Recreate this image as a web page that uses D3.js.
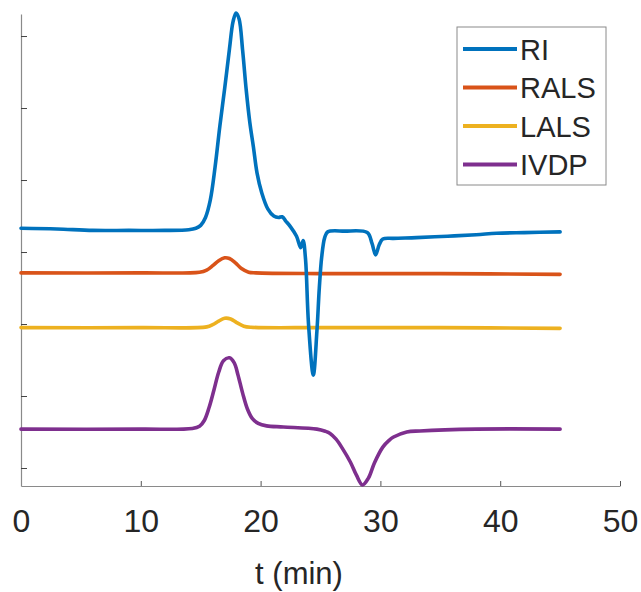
<!DOCTYPE html>
<html>
<head>
<meta charset="utf-8">
<script src="https://cdn.jsdelivr.net/npm/d3@7"></script>
<style>
  body { margin: 0; background: #fff; }
  svg { display: block; }
  text { font-family: "Liberation Sans", Arial, sans-serif; fill: #262626; }
</style>
</head>
<body>
<div id="chart"></div>
<script>
// ---------- data (t in min, signal in arbitrary offset units) ----------
var seriesNames = ["RI", "RALS", "LALS", "IVDP"];
var seriesColors = ["#0072BD", "#D95319", "#EDB120", "#7E2F8E"];

var riT = [0, 3, 6, 9, 12, 14, 14.6, 15.0, 15.4, 15.8, 16.2, 16.6, 17.0, 17.4, 17.7, 17.95, 18.2, 18.5, 18.8, 19.1, 19.4, 19.7, 20.1, 20.6, 21.1, 21.5, 21.8, 22.1, 22.5, 23.0, 23.35, 23.55, 23.75, 24.0, 24.4, 24.7, 24.9, 25.1, 25.35, 25.6, 27, 28.9, 29.3, 29.6, 29.9, 30.2, 31.1, 33, 35.6, 38, 39.7, 42, 45];
var riV = [3.33, 3.32, 3.30, 3.30, 3.30, 3.31, 3.33, 3.37, 3.48, 3.72, 4.18, 4.75, 5.27, 5.82, 6.2, 6.32, 6.24, 5.8, 5.25, 4.8, 4.46, 4.10, 3.82, 3.60, 3.50, 3.48, 3.49, 3.43, 3.35, 3.22, 3.06, 3.16, 2.90, 2.00, 1.29, 1.90, 2.50, 2.93, 3.20, 3.28, 3.29, 3.27, 3.12, 2.96, 3.10, 3.18, 3.19, 3.20, 3.22, 3.24, 3.26, 3.27, 3.28];

var ralsT = [0, 10, 14.9, 15.5, 16.0, 16.5, 17.0, 17.4, 17.9, 18.4, 19.0, 19.6, 25, 35, 45];
var ralsV = [2.71, 2.71, 2.72, 2.75, 2.81, 2.88, 2.92, 2.91, 2.85, 2.77, 2.72, 2.71, 2.70, 2.70, 2.69];

var lalsT = [0, 10, 15.5, 16.0, 16.5, 17.0, 17.5, 18.0, 18.6, 19.2, 25, 35, 45];
var lalsV = [1.95, 1.95, 1.96, 1.99, 2.04, 2.08, 2.07, 2.02, 1.97, 1.955, 1.95, 1.95, 1.94];

var ivdpT = [0, 10, 14.3, 14.9, 15.3, 15.7, 16.1, 16.5, 16.9, 17.4, 17.8, 18.1, 18.5, 18.9, 19.3, 19.8, 20.5, 21.9, 24.7, 25.4, 25.8, 26.3, 26.8, 27.5, 28.0, 28.5, 29.0, 29.5, 30.2, 30.7, 31.1, 32.2, 33.3, 38, 45];
var ivdpV = [0.54, 0.54, 0.55, 0.58, 0.66, 0.84, 1.08, 1.33, 1.49, 1.53, 1.46, 1.30, 1.04, 0.82, 0.69, 0.62, 0.585, 0.57, 0.54, 0.51, 0.48, 0.40, 0.28, 0.08, -0.10, -0.235, -0.14, 0.07, 0.29, 0.38, 0.43, 0.50, 0.515, 0.54, 0.54];

var xTicks = [0, 10, 20, 30, 40, 50];
var yTicks = [0, 1, 2, 3, 4, 5, 6];

// ---------- layout ----------
var width = 641, height = 592;
var margin = { left: 21, right: 21, top: 14, bottom: 106 };

var svg = d3.select("#chart").append("svg")
  .attr("width", width)
  .attr("height", height);

var x = d3.scaleLinear().domain([0, 50]).range([margin.left, width - margin.right]);
var y = d3.scaleLinear().domain([-0.25, 6.306]).range([height - margin.bottom, margin.top]);

// ---------- axes ----------
var xAxis = svg.append("g")
  .attr("transform", "translate(0," + y.range()[0] + ")")
  .call(d3.axisBottom(x).tickValues(xTicks).tickSizeInner(-5).tickSizeOuter(0).tickPadding(23));
xAxis.select(".domain").attr("stroke", "#8a8a8a").attr("stroke-width", 1.2);
xAxis.selectAll(".tick line").attr("stroke", "#555");
xAxis.selectAll(".tick text")
  .style("font-size", "32px")
  .attr("fill", "#262626");

var yAxis = svg.append("g")
  .attr("transform", "translate(" + x(0) + ",0)")
  .call(d3.axisLeft(y).tickValues(yTicks).tickSizeInner(-6).tickSizeOuter(0).tickFormat(""));
yAxis.select(".domain").attr("stroke", "#8a8a8a").attr("stroke-width", 1.2);
yAxis.selectAll(".tick line").attr("stroke", "#444");

// x label
svg.append("text")
  .attr("x", 299)
  .attr("y", 584)
  .attr("text-anchor", "middle")
  .style("font-size", "31px")
  .text("t (min)");

// ---------- traces ----------
var line = d3.line()
  .x(function(d) { return x(d[0]); })
  .y(function(d) { return y(d[1]); })
  .curve(d3.curveCatmullRom.alpha(0.5));

var allT = [riT, ralsT, lalsT, ivdpT];
var allV = [riV, ralsV, lalsV, ivdpV];

// draw bottom-most first so RI sits on top
[3, 2, 1, 0].forEach(function(i) {
  var pts = d3.zip(allT[i], allV[i]);
  svg.append("path")
    .datum(pts)
    .attr("fill", "none")
    .attr("stroke", seriesColors[i])
    .attr("stroke-width", 3.6)
    .attr("stroke-linejoin", "round")
    .attr("stroke-linecap", "round")
    .attr("d", line);
});

// ---------- legend ----------
var legend = svg.append("g").attr("transform", "translate(457,27)");
legend.append("rect")
  .attr("width", 149)
  .attr("height", 158)
  .attr("fill", "#fff")
  .attr("stroke", "#8a8a8a")
  .attr("stroke-width", 1);

seriesNames.forEach(function(name, i) {
  var ry = 22 + i * 38.5;
  legend.append("line")
    .attr("x1", 6).attr("x2", 60)
    .attr("y1", ry).attr("y2", ry)
    .attr("stroke", seriesColors[i])
    .attr("stroke-width", 4);
  legend.append("text")
    .attr("x", 63)
    .attr("y", ry + 10.5)
    .style("font-size", "29px")
    .attr("fill", "#000")
    .text(name);
});
</script>
</body>
</html>
